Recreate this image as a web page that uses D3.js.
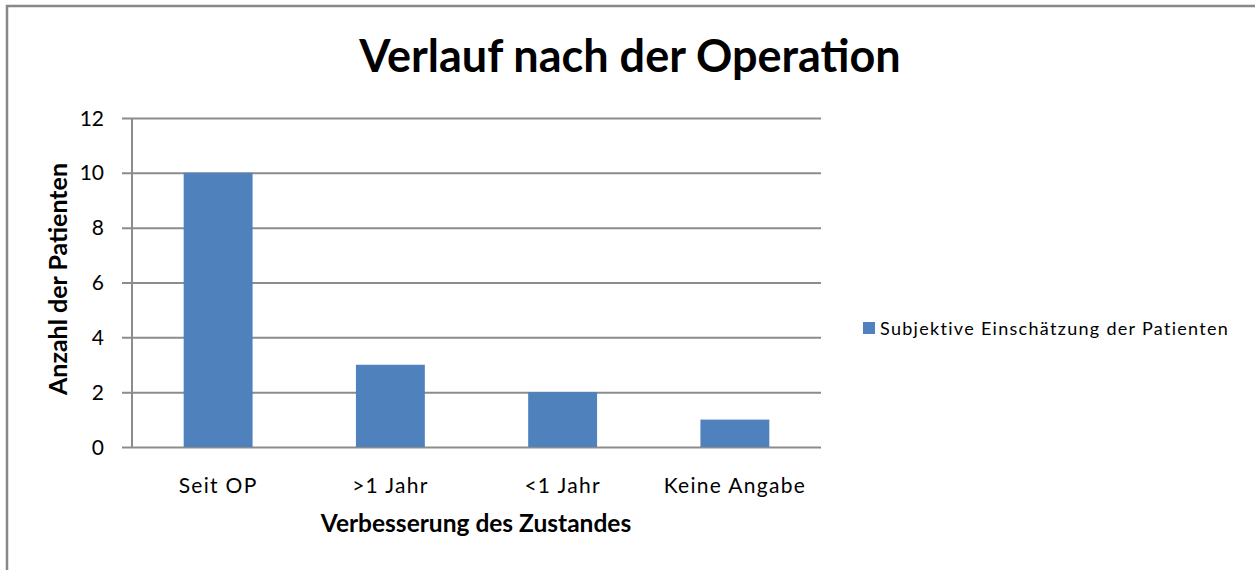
<!DOCTYPE html>
<html>
<head>
<meta charset="utf-8">
<script src="https://cdn.jsdelivr.net/npm/d3@7"></script>
<style>
  html, body { margin: 0; padding: 0; background: #fff; }
  svg { display: block; font-family: Lato, "Open Sans", sans-serif; }
</style>
</head>
<body>
<svg id="chart" width="1255" height="570"></svg>
<script>
// Categories and counts
const categories = ["Seit OP", ">1 Jahr", "<1 Jahr", "Keine Angabe"];
const patientCounts = [10, 3, 2, 1];
const yTicks = [0, 2, 4, 6, 8, 10, 12];
const seriesName = "Subjektive Einschätzung der Patienten";
const chartTitle = "Verlauf nach der Operation";
const xTitle = "Verbesserung des Zustandes";
const yTitle = "Anzahl der Patienten";

const svg = d3.select("#chart");
const W = 1255, H = 570;
const plot = { left: 132, right: 821, top: 118, bottom: 447 };
const barColor = "#4f81bd";
const gridColor = "#8c8c8c";

// Outer frame
svg.append("rect")
  .attr("x", 7).attr("y", 6)
  .attr("width", W + 10).attr("height", H + 10)
  .attr("fill", "#fff").attr("stroke", "#888").attr("stroke-width", 2.5);

const x = d3.scaleBand()
  .domain(categories)
  .range([plot.left, plot.right])
  .paddingInner(0.6).paddingOuter(0.3);

const y = d3.scaleLinear()
  .domain([0, 12])
  .range([plot.bottom, plot.top]);

// Horizontal gridlines with left tick marks
const yAxis = d3.axisLeft(y)
  .tickValues(yTicks)
  .tickSize(-(plot.right - plot.left))
  .tickPadding(0)
  .tickFormat("");
const gy = svg.append("g")
  .attr("transform", `translate(${plot.left},0)`)
  .call(yAxis);
gy.select(".domain").remove();
gy.selectAll(".tick line")
  .attr("x1", -10)
  .attr("stroke", gridColor).attr("stroke-width", 2);

// Y tick labels
svg.append("g").selectAll("text")
  .data(yTicks).join("text")
  .attr("x", 104).attr("y", d => y(d))
  .attr("dy", "0.36em")
  .attr("text-anchor", "end")
  .attr("font-size", 21).attr("fill", "#000")
  .text(d => d);

// Vertical axis line
svg.append("line")
  .attr("x1", plot.left).attr("x2", plot.left)
  .attr("y1", plot.top).attr("y2", plot.bottom)
  .attr("stroke", gridColor).attr("stroke-width", 2);

// Bars
svg.append("g").selectAll("rect")
  .data(categories.map((c, i) => ({ c, v: patientCounts[i] })))
  .join("rect")
  .attr("x", d => x(d.c))
  .attr("width", x.bandwidth())
  .attr("y", d => y(d.v))
  .attr("height", d => y(0) - y(d.v))
  .attr("fill", barColor);

// Category labels
svg.append("g").selectAll("text")
  .data(categories).join("text")
  .attr("x", d => x(d) + x.bandwidth() / 2)
  .attr("y", 493)
  .attr("text-anchor", "middle")
  .attr("font-size", 21).attr("letter-spacing", 1.3).attr("fill", "#000")
  .text(d => d);

// Titles
svg.append("text")
  .attr("x", 630).attr("y", 72)
  .attr("text-anchor", "middle")
  .attr("font-size", 45).attr("font-weight", "bold")
  .text(chartTitle);

svg.append("text")
  .attr("x", 476).attr("y", 532)
  .attr("text-anchor", "middle")
  .attr("font-size", 24.5).attr("font-weight", "bold")
  .text(xTitle);

svg.append("text")
  .attr("transform", `translate(67,279) rotate(-90)`)
  .attr("text-anchor", "middle")
  .attr("font-size", 25).attr("font-weight", "bold")
  .text(yTitle);

// Legend
const lg = svg.append("g").attr("transform", "translate(863,322)");
lg.append("rect").attr("width", 12).attr("height", 12).attr("fill", barColor);
lg.append("text")
  .attr("x", 17).attr("y", 12.5)
  .attr("font-size", 18).attr("letter-spacing", 1.3)
  .text(seriesName);
</script>
</body>
</html>
